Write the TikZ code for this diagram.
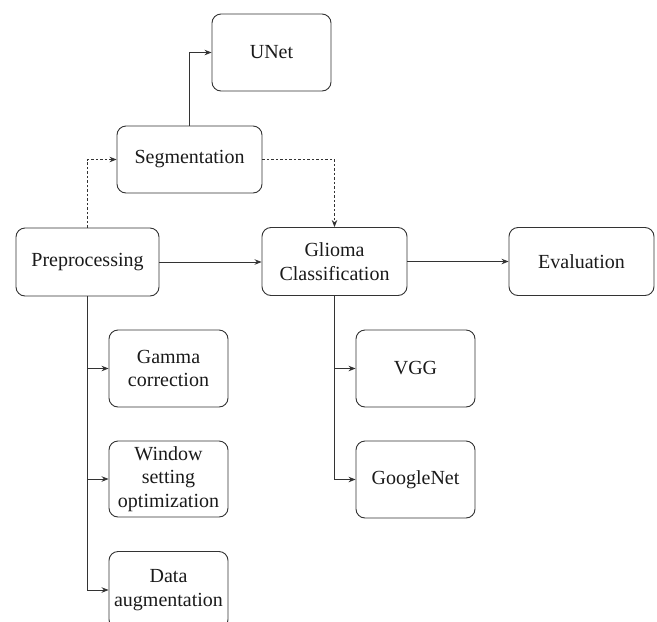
\documentclass[tikz,border=0pt]{standalone}
\usepackage{fontspec}
\setmainfont{Liberation Serif}
\usetikzlibrary{arrows.meta}
\definecolor{ln}{HTML}{333333}
\definecolor{tx}{HTML}{1A1A1A}
\tikzset{
  box/.style={draw=ln, line width=0.9pt, rounded corners=9pt, align=center, inner sep=0pt,
    text=tx, font=\fontsize{20}{23.5}\selectfont},
  wide/.style={box, minimum width=145pt, minimum height=68pt},
  narrow/.style={box, minimum width=119pt, minimum height=77pt},
  conn/.style={draw=ln, line width=0.9pt, -{Stealth[length=7pt,width=5.5pt]}},
  dconn/.style={conn, dash pattern=on 2.5pt off 2pt}
}
\begin{document}
\begin{tikzpicture}[x=1pt,y=-1pt]
\useasboundingbox (0,0) rectangle (657,622);
\clip (0,0) rectangle (657,622);
\node[narrow] (unet) at (271.5,52.5) {UNet};
\node[wide, minimum height=67pt] (seg) at (189.5,159.5) {Segmentation};
\node[wide, minimum width=143pt] (prep) at (87.5,262) {Preprocessing};
\node[wide] (glioma) at (334.5,261.5) {Glioma\\Classification};
\node[wide] (eval) at (581.5,261.5) {Evaluation};
\node[narrow] (gamma) at (168.5,368.5) {Gamma\\correction};
\node[narrow, minimum height=76pt] (window) at (168.5,479) {Window\\setting\\optimization};
\node[narrow] (data) at (168.5,590) {Data\\augmentation};
\node[narrow] (vgg) at (415.5,368.5) {VGG};
\node[narrow] (google) at (415.5,479.5) {GoogleNet};

\draw[conn] (seg.north) |- (unet.west);
\draw[dconn] (prep.north) |- (seg.west);
\draw[dconn] (seg.east) -| (glioma.north);
\draw[conn] (prep.east) -- (glioma.west |- prep.east);
\draw[conn] (glioma.east) -- (eval.west);
\draw[conn] (prep.south) |- (gamma.west);
\draw[conn] (prep.south) |- (window.west);
\draw[conn] (prep.south) |- (data.west);
\draw[conn] (glioma.south) |- (vgg.west);
\draw[conn] (glioma.south) |- (google.west);
\end{tikzpicture}
\end{document}
